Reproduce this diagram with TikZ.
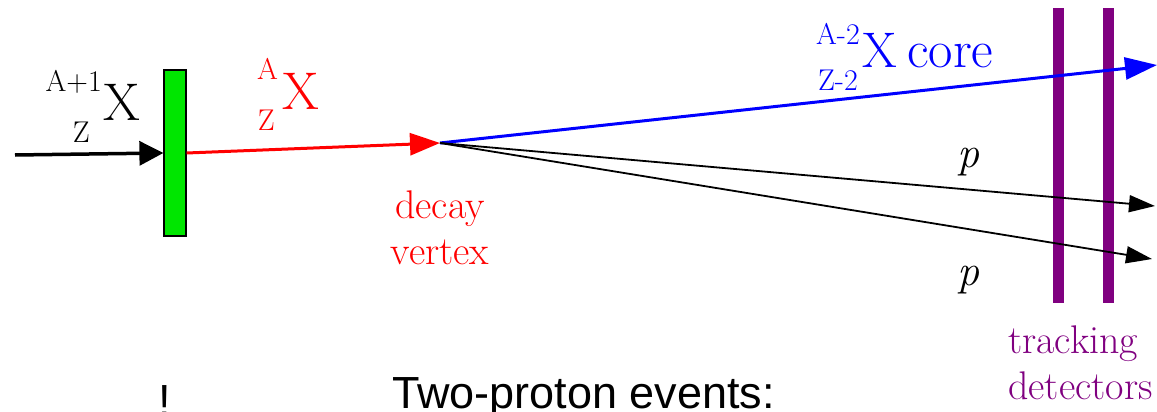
\documentclass[tikz,border=0pt]{standalone}
\usepackage{fontspec}
\newcommand{\serifface}{\rmfamily}
\newfontfamily\labelsans{Liberation Sans}
\usepackage{xcolor}
\usetikzlibrary{arrows.meta,positioning,calc}

\definecolor{tgtgreen}{RGB}{0,230,0}
\definecolor{detpurple}{RGB}{128,0,128}

\begin{document}
\begin{tikzpicture}[
  x=1pt, y=-1pt,
  nucl/.style={inner sep=0pt, font=\serifface\fontsize{53}{60}\selectfont},
  iso/.style={inner sep=0pt, font=\serifface\fontsize{30}{34}\selectfont},
  note/.style={inner sep=0pt, font=\serifface\fontsize{40}{46}\selectfont},
  target/.style={draw=black, fill=tgtgreen, line width=1.2pt, minimum width=22pt, minimum height=166pt, inner sep=0pt},
  detector/.style={fill=detpurple, minimum width=11pt, minimum height=295pt, inner sep=0pt},
  track/.style={line width=1.8pt, -{Triangle[length=26pt,width=17pt]}}
]
  \clip (0,0) rectangle (1157,412);
  \useasboundingbox (0,0) rectangle (1157,412);

  % target and detectors
  \node[target] (tgt) at (175,153) {};
  \node[detector] (det1) at (1058.5,155.5) {};
  \node[detector] (det2) at (1108.5,155.5) {};

  \coordinate (beam) at (15,155);
  \coordinate (vtx) at (440,143);
  \coordinate (coreend) at (1157,65);
  \coordinate (p1end) at (1155,206);
  \coordinate (p2end) at (1152,259);

  % beam and fragments
  \draw[line width=3.5pt, -{Triangle[length=24pt,width=24pt]}] (beam) -- (tgt.west);
  \draw[red, line width=3pt, -{Triangle[length=30pt,width=22pt]}] (tgt.east |- 0,153) -- (vtx);
  \draw[blue, line width=3pt, -{Triangle[length=32pt,width=22pt]}] (vtx) -- (coreend);
  \draw[track] (vtx) -- (p1end);
  \draw[track] (vtx) -- (p2end);

  % nuclei labels
  \node[nucl, anchor=base west] (xin) at (103,120) {X};
  \node[iso, anchor=base east] (xinA) at ($(xin.base west)+(-1,-28)$) {A+1};
  \node[iso, anchor=base east] (xinZ) at ($(xin.base west)+(-13,22)$) {Z};

  \node[nucl, red, anchor=base west] (xmid) at (282,110) {X};
  \node[iso, red, anchor=base east] (xmidA) at ($(xmid.base west)+(-4,-30)$) {A};
  \node[iso, red, anchor=base east] (xmidZ) at ($(xmid.base west)+(-7,20)$) {Z};

  \node[nucl, blue, anchor=base west, font=\serifface\fontsize{50}{56}\selectfont] (xcore) at (862,68) {X};
  \node[iso, blue, anchor=base east] (xcoreA) at ($(xcore.base west)+(-2,-23)$) {A-2};
  \node[iso, blue, anchor=base east] (xcoreZ) at ($(xcore.base west)+(-4,22)$) {Z-2};
  \node[nucl, blue, right=10pt of xcore.base east, anchor=base west] (core) {core};

  % annotations
  \node[note, red, align=center] (vtxlbl) at (440,228) {decay\\vertex};
  \node[note, font=\serifface\fontsize{44}{50}\selectfont\itshape] (p1) at (968,162) {p};
  \node[note, font=\serifface\fontsize{44}{50}\selectfont\itshape] (p2) at (968,280) {p};
  \node[note, detpurple, align=left, anchor=north west] (detlbl) at (1008,326) {tracking\\detectors};

  \node[inner sep=0pt, anchor=base west, font=\labelsans\fontsize{45}{50}\selectfont] (title) at (392,408) {Two-proton events:};
  \node[inner sep=0pt, anchor=base, font=\labelsans\fontsize{45}{50}\selectfont] (mark) at (165,416) {!};
\end{tikzpicture}
\end{document}
